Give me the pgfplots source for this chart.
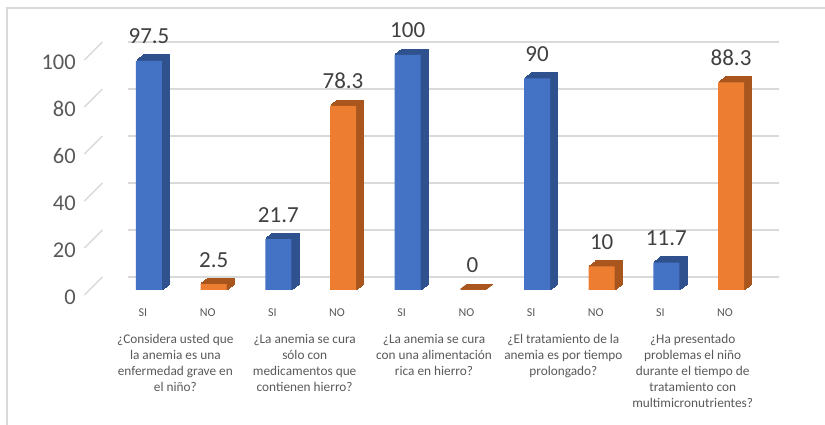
\documentclass[border=0pt]{standalone}
\usepackage{pgfplots}
\pgfplotsset{compat=1.18}
\usepackage{fontspec}
\setmainfont{Carlito}
\definecolor{cblue}{HTML}{4472C4}
\definecolor{cblued}{HTML}{2F528F}
\definecolor{corange}{HTML}{ED7D31}
\definecolor{coranged}{HTML}{A9561E}
\definecolor{gridc}{HTML}{D9D9D9}
\definecolor{txt}{HTML}{595959}
\definecolor{valtxt}{HTML}{404040}
\tikzset{
  sh/.style n args={3}{preaction={fill=#1,draw=#1,line width=1.6pt,transform canvas={shift={(#2,#3)}}}},
  bar3d/.style={sh={#1}{1.333pt}{1pt},sh={#1}{2.667pt}{2pt},sh={#1}{4pt}{3pt},sh={#1}{5.333pt}{4pt},sh={#1}{6.667pt}{5pt},sh={#1}{7.5pt}{5.6pt}},
  qlab/.style={font=\fontsize{13.3}{16}\selectfont, text=txt, anchor=north, align=center, inner sep=0pt, xshift=-6pt, yshift=-44.5pt},
}
\begin{document}
\begin{tikzpicture}
\path[use as bounding box] (0,0) rectangle (825pt,425pt);
\draw[gridc, line width=1.5pt] (7pt,0) -- (7pt,417pt) -- (825pt,417pt);
\begin{axis}[
  at={(110pt,135pt)}, anchor=south west,
  x=64.67pt, y=2.35pt,
  xmin=0.397, xmax=10.464, ymin=0, ymax=100,
  clip=false,
  axis line style={draw=none},
  major tick length=0pt,
  ytick={0,20,...,100},
  ymajorgrids,
  major grid style={draw=gridc, line width=1.5pt, xshift=18pt, yshift=13pt},
  xtick={1,...,10},
  xticklabels={SI,NO,SI,NO,SI,NO,SI,NO,SI,NO},
  xticklabel style={font=\fontsize{12}{14}\selectfont, text=txt, anchor=base, inner sep=0pt, yshift=-27pt, xshift=-6pt},
  yticklabel style={font=\fontsize{22.5}{27}\selectfont, text=txt, anchor=east, inner sep=0pt, xshift=-34pt, yshift=-7pt},
  /pgf/number format/assume math mode=true,
  ybar, bar width=26pt, bar shift=0pt,
  nodes near coords,
  every node near coord/.append style={font=\fontsize{23}{27}\selectfont, text=valtxt, anchor=base, inner sep=0pt, yshift=17pt},
]
\addplot[fill=cblue, draw=none, bar3d=cblued] coordinates {(1,97.5) (3,21.7) (5,100) (7,90) (9,11.7)};
\addplot[fill=corange, draw=none, bar3d=coranged] coordinates {(2,2.5) (4,78.3) (6,0) (8,10) (10,88.3)};
\pgfplotsinvokeforeach{0,20,40,60,80,100}{
  \draw[gridc, line width=1.5pt] (axis cs:0.397,#1) ++(0,-5pt) -- ++(18pt,18pt);
}
\node[qlab] at (axis cs:1.5,0) {¿Considera usted que\\la anemia es una\\enfermedad grave en\\el niño?};
\node[qlab] at (axis cs:3.5,0) {¿La anemia se cura\\sólo con\\medicamentos que\\contienen hierro?};
\node[qlab] at (axis cs:5.5,0) {¿La anemia se cura\\con una alimentación\\rica en hierro?};
\node[qlab] at (axis cs:7.5,0) {¿El tratamiento de la\\anemia es por tiempo\\prolongado?};
\node[qlab] at (axis cs:9.5,0) {¿Ha presentado\\problemas el niño\\durante el tiempo de\\tratamiento con\\multimicronutrientes?};
\end{axis}
\end{tikzpicture}
\end{document}
